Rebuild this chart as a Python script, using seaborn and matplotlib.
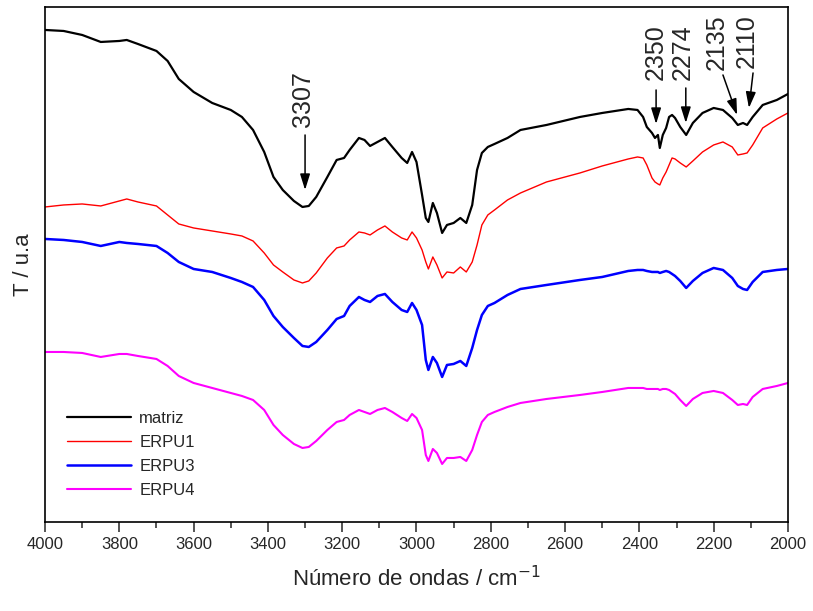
import matplotlib
matplotlib.use("Agg")
import matplotlib.pyplot as plt
import numpy as np
import pandas as pd
import seaborn as sns
from matplotlib.ticker import MultipleLocator

# wavenumber grid (cm-1), shared by all four spectra
wavenumber = [4000, 3950, 3900, 3850, 3800, 3780, 3750, 3700, 3670, 3640, 3600, 3550,
              3500, 3470, 3440, 3410, 3385, 3360, 3330, 3307, 3290, 3270, 3240, 3215,
              3195, 3180, 3155, 3140, 3125, 3105, 3085, 3065, 3040, 3025, 3012, 3000,
              2985, 2975, 2968, 2956, 2945, 2931, 2918, 2900, 2882, 2866, 2850, 2837,
              2824, 2808, 2790, 2755, 2720, 2650, 2560, 2500, 2430, 2405, 2390, 2380,
              2366, 2358, 2350, 2345, 2337, 2328, 2320, 2312, 2304, 2290, 2274, 2256,
              2230, 2200, 2175, 2150, 2135, 2121, 2110, 2095, 2068, 2030, 2000]

# transmittance, arbitrary units (stacked)
matriz = [492, 491, 487, 480, 481, 482, 478, 471, 461, 443, 430, 419,
          412, 405, 392, 370, 345, 332, 321, 315, 316, 325, 345, 362,
          364, 372, 384, 382, 376, 380, 384, 375, 364, 359, 370, 360,
          327, 304, 300, 319, 309, 289, 297, 299, 304, 299, 317, 352,
          369, 375, 378, 384, 392, 397, 405, 409, 413, 412, 405, 395,
          389, 384, 387, 374, 387, 394, 405, 407, 404, 395, 387, 399,
          409, 414, 412, 404, 397, 399, 397, 405, 417, 422, 428]
erpu1 = [315, 317, 318, 316, 321, 323, 320, 316, 307, 298, 294, 291,
         288, 286, 281, 269, 257, 250, 242, 239, 241, 249, 264, 274,
         276, 282, 290, 289, 287, 292, 296, 290, 284, 282, 290, 284,
         272, 260, 253, 265, 257, 244, 250, 249, 255, 250, 260, 277,
         297, 307, 312, 322, 329, 340, 349, 356, 363, 365, 364, 357,
         344, 340, 338, 337, 344, 350, 357, 364, 363, 359, 355, 361,
         370, 377, 380, 375, 367, 368, 369, 377, 394, 403, 409]
erpu3 = [283, 282, 280, 276, 280, 279, 278, 276, 269, 260, 253, 250,
         244, 240, 235, 222, 206, 195, 184, 176, 175, 180, 192, 203,
         206, 216, 225, 222, 220, 226, 228, 220, 212, 210, 219, 212,
         197, 162, 152, 165, 159, 145, 157, 158, 161, 156, 174, 192,
         207, 216, 219, 227, 233, 237, 242, 245, 251, 252, 252, 251,
         250, 250, 250, 249, 250, 251, 250, 248, 246, 241, 234, 241,
         249, 254, 252, 244, 236, 233, 232, 240, 250, 252, 253]
erpu4 = [170, 170, 169, 165, 168, 168, 166, 163, 156, 146, 139, 134,
         129, 126, 122, 112, 97, 87, 78, 74, 75, 81, 92, 100,
         102, 107, 112, 110, 108, 112, 114, 110, 104, 101, 108, 104,
         92, 67, 61, 73, 69, 58, 64, 64, 65, 61, 72, 87,
         100, 107, 110, 115, 119, 123, 127, 130, 134, 134, 134, 133,
         133, 133, 133, 132, 133, 133, 132, 130, 128, 122, 116, 123,
         129, 131, 129, 122, 117, 118, 117, 125, 133, 136, 139]

series_names = ["matriz", "ERPU1", "ERPU3", "ERPU4"]
series_values = [matriz, erpu1, erpu3, erpu4]
series_colors = ["black", "red", "blue", "magenta"]
series_widths = [1.6, 1.0, 1.8, 1.5]

# marked bands: label, arrow tail, arrow tip, label anchor
band_labels = ["3307", "2350", "2274", "2135", "2110"]
band_tail = [(3300, 387), (2355, 432), (2275, 434), (2175, 447), (2094, 449)]
band_tip = [(3300, 332), (2355, 398), (2275, 399), (2137, 407), (2105, 414)]
band_text = [(3305, 395), (2357, 442), (2282, 442), (2192, 452), (2110, 454)]

frames = []
for name, vals in zip(series_names, series_values):
    frames.append(pd.DataFrame({"wn": wavenumber, "T": vals, "amostra": name}))
df = pd.concat(frames, ignore_index=True)

sns.set_style("ticks")
plt.rcParams["font.family"] = ["Liberation Sans Narrow", "Liberation Sans", "DejaVu Sans"]

fig = plt.figure(figsize=(8.13, 6.11), dpi=100)
ax = fig.add_axes([0.0554, 0.1457, 0.9138, 0.8429])

for name, col, lw in zip(series_names, series_colors, series_widths):
    sns.lineplot(data=df[df["amostra"] == name], x="wn", y="T", color=col,
                 linewidth=lw, label=name, ax=ax)

for lab, tail, tip, txt in zip(band_labels, band_tail, band_tip, band_text):
    ax.annotate("", xy=tip, xytext=tail,
                arrowprops=dict(arrowstyle="-|>,head_width=0.25,head_length=0.8",
                                color="black", lw=1.1, mutation_scale=12,
                                shrinkA=0, shrinkB=0))
    ax.text(txt[0], txt[1], lab, rotation=90, ha="center", va="bottom",
            fontsize=18, family=["Liberation Sans", "DejaVu Sans"])

ax.set_xlim(4000, 2000)
ax.set_ylim(0, 515)
ax.xaxis.set_major_locator(MultipleLocator(200))
ax.xaxis.set_minor_locator(MultipleLocator(100))
ax.set_yticks([])
ax.tick_params(axis="x", which="major", length=7, width=1.1, direction="out",
               labelsize=12, pad=4)
ax.tick_params(axis="x", which="minor", length=4, width=1.1, direction="out")
for sp in ax.spines.values():
    sp.set_visible(True)
    sp.set_linewidth(1.2)
    sp.set_color("black")

ax.set_xlabel("Número de ondas / cm$^{-1}$", fontsize=16, labelpad=10)
ax.set_ylabel("T / u.a", fontsize=16, labelpad=8)

ax.legend(loc="upper left", bbox_to_anchor=(0.01, 0.245), frameon=False,
          fontsize=12, handlelength=3.8, labelspacing=0.55, handletextpad=0.5)

fig.savefig("out.png", dpi=100)
